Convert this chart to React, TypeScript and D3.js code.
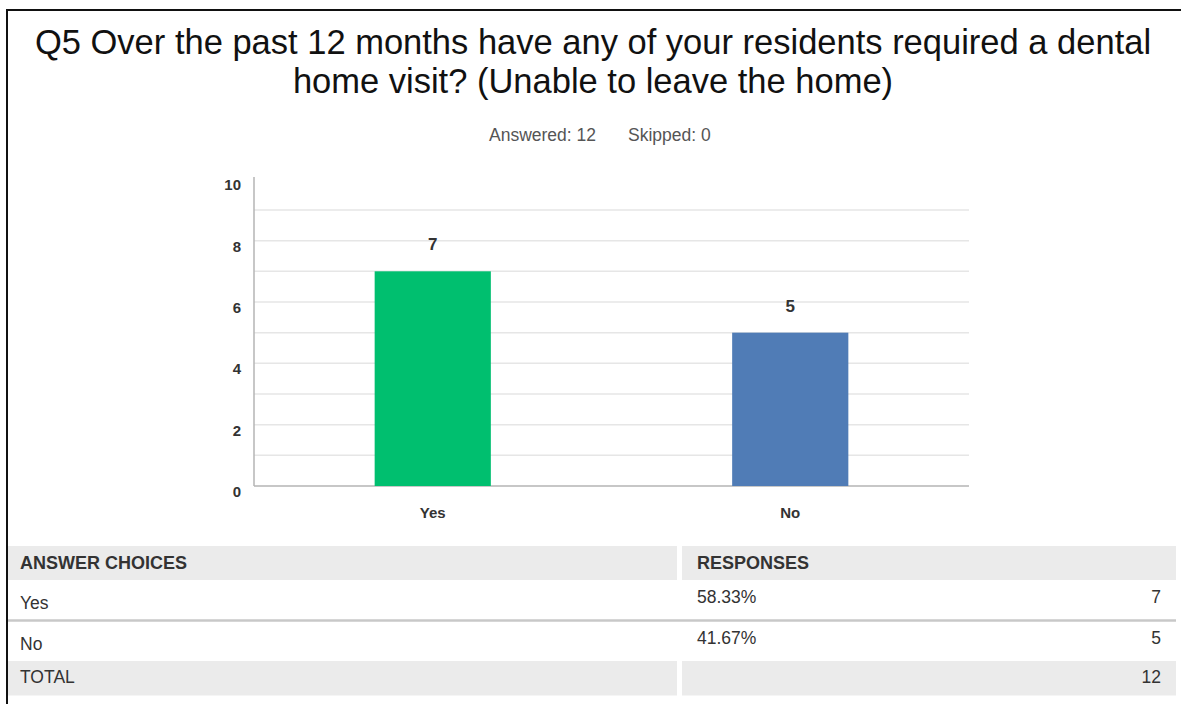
import React from "react";
import * as d3 from "d3";

const titleLines = [
  "Q5 Over the past 12 months have any of your residents required a dental",
  "home visit? (Unable to leave the home)",
];
const answered = 12;
const skipped = 0;
const categories = ["Yes", "No"];
const responses = [7, 5];
const barColors = ["#00bf6f", "#507cb6"];
const yTicks = [0, 2, 4, 6, 8, 10];
const gridValues = [1, 2, 3, 4, 5, 6, 7, 8, 9];

const W = 1181;
const H = 704;
const FONT = "'Liberation Sans', Arial, Helvetica, sans-serif";

const App = () => {
  // plot area
  const left = 254;
  const right = 969;
  const top = 179.3;
  const bottom = 486;

  const x = d3.scaleBand<string>().domain(categories).range([left, right]);
  const y = d3.scaleLinear().domain([0, 10]).range([bottom, top]);
  const barW = x.bandwidth() * 0.325;
  const total = d3.sum(responses);
  const pct = d3.format(".2%");

  // table layout
  const tLeft = 8;
  const tRight = 1176;
  const colSplit = 677;
  const col2 = 682;

  return (
    <svg
      width={W}
      height={H}
      style={{ position: "absolute", left: 0, top: 0, background: "#fff" }}
      fontFamily={FONT}
    >
      {/* frame */}
      <line x1={7} x2={W} y1={10} y2={10} stroke="#111" strokeWidth={2} />
      <line x1={7} x2={7} y1={9} y2={H} stroke="#111" strokeWidth={2} />

      {/* title */}
      {titleLines.map((t, i) => (
        <text
          key={i}
          x={593}
          y={54 + i * 38.5}
          textAnchor="middle"
          fontSize={34.5}
          fill="#111"
        >
          {t}
        </text>
      ))}
      <text x={489} y={141} fontSize={17.5} fill="#555">
        Answered: {answered}
      </text>
      <text x={628} y={141} fontSize={17.5} fill="#555">
        Skipped: {skipped}
      </text>

      {/* grid */}
      {gridValues.map((v) => (
        <line
          key={v}
          x1={left}
          x2={right}
          y1={y(v)}
          y2={y(v)}
          stroke="#e6e6e6"
          strokeWidth={1.5}
        />
      ))}
      {/* axes */}
      <line x1={left} x2={left} y1={177} y2={bottom} stroke="#b5b5b5" strokeWidth={1.5} />
      <line x1={left} x2={right} y1={bottom} y2={bottom} stroke="#b5b5b5" strokeWidth={1.5} />
      {yTicks.map((v) => (
        <text
          key={v}
          x={241}
          y={y(v) + 11}
          textAnchor="end"
          fontSize={15}
          fontWeight="bold"
          fill="#333"
        >
          {v}
        </text>
      ))}

      {/* bars */}
      {categories.map((c, i) => {
        const cx = (x(c) as number) + x.bandwidth() / 2;
        return (
          <g key={c}>
            <rect
              x={cx - barW / 2}
              y={y(responses[i])}
              width={barW}
              height={bottom - y(responses[i])}
              fill={barColors[i]}
            />
            <text
              x={cx}
              y={y(responses[i]) - 21}
              textAnchor="middle"
              fontSize={17}
              fontWeight="bold"
              fill="#333"
            >
              {responses[i]}
            </text>
            <text
              x={cx}
              y={518}
              textAnchor="middle"
              fontSize={15}
              fontWeight="bold"
              fill="#333"
            >
              {c}
            </text>
          </g>
        );
      })}

      {/* table */}
      <rect x={tLeft} y={546} width={colSplit - tLeft} height={34} fill="#ebebeb" />
      <rect x={col2} y={546} width={tRight - col2} height={34} fill="#ebebeb" />
      <text x={20} y={569} fontSize={18} fontWeight="bold" fill="#333">
        ANSWER CHOICES
      </text>
      <text x={697} y={569} fontSize={18} fontWeight="bold" fill="#333">
        RESPONSES
      </text>
      {categories.map((c, i) => {
        const rowTop = 580 + i * 41;
        return (
          <g key={c}>
            <text x={20} y={rowTop + 28.5} fontSize={17.5} fill="#333">
              {c}
            </text>
            <text x={697} y={rowTop + 23} fontSize={17.5} fill="#333">
              {pct(responses[i] / total)}
            </text>
            <text x={1161} y={rowTop + 23} textAnchor="end" fontSize={17.5} fill="#333">
              {responses[i]}
            </text>
            {i < categories.length - 1 && (
              <line
                x1={tLeft}
                x2={tRight}
                y1={rowTop + 40.5}
                y2={rowTop + 40.5}
                stroke="#c8c8c8"
                strokeWidth={2.5}
              />
            )}
          </g>
        );
      })}
      <rect x={tLeft} y={661} width={colSplit - tLeft} height={34.5} fill="#ebebeb" />
      <rect x={col2} y={661} width={tRight - col2} height={34.5} fill="#ebebeb" />
      <text x={20} y={683} fontSize={17.5} fill="#333">
        TOTAL
      </text>
      <text x={1161} y={683} textAnchor="end" fontSize={17.5} fill="#333">
        {total}
      </text>
    </svg>
  );
};

export default App;
